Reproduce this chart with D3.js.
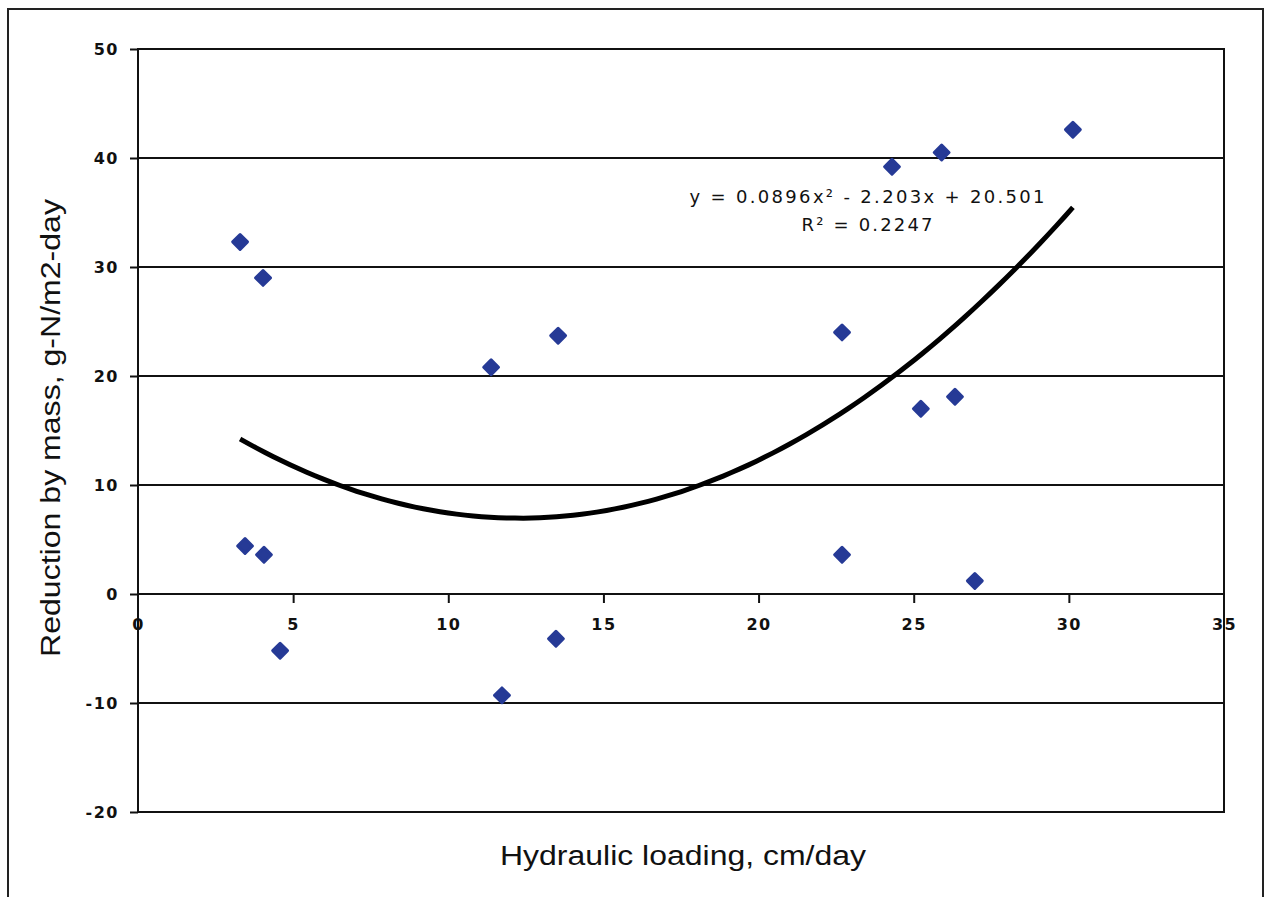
<!DOCTYPE html>
<html>
<head>
<meta charset="utf-8">
<script src="https://cdn.jsdelivr.net/npm/d3@7"></script>
<style>
  html, body { margin: 0; padding: 0; background: #fff; }
  svg { display: block; }
</style>
</head>
<body>
<svg id="chart" width="1264" height="897"></svg>
<script>
// ---- Data ----
const xValues = [3.29, 4.03, 3.45, 4.06, 4.58, 11.38, 11.73, 13.54, 13.47, 22.69, 22.69, 24.3, 25.9, 25.23, 26.33, 26.97, 30.13];
const yValues = [32.3, 29.0, 4.4, 3.6, -5.2, 20.8, -9.3, 23.7, -4.1, 24.0, 3.6, 39.2, 40.5, 17.0, 18.1, 1.2, 42.6];
const xTicks = [0, 5, 10, 15, 20, 25, 30, 35];
const yTicks = [-20, -10, 0, 10, 20, 30, 40, 50];
const trendCoeffs = [0.0896, -2.203, 20.501]; // a, b, c of y = a x^2 + b x + c
const equationLines = ["y = 0.0896x² - 2.203x + 20.501", "R² = 0.2247"];
const xTitle = "Hydraulic loading, cm/day";
const yTitle = "Reduction by mass, g-N/m2-day";

const svg = d3.select("#chart");
const L = 138, R = 1224, T = 49, B = 812;

const x = d3.scaleLinear().domain([0, 35]).range([L, R]);
const y = d3.scaleLinear().domain([-20, 50]).range([B, T]);
const fmt = d => String(d); // plain hyphen-minus like the original

// outer frame
svg.append("rect").attr("x", 8).attr("y", 9).attr("width", 1255).attr("height", 900)
  .attr("fill", "#fff").attr("stroke", "#222").attr("stroke-width", 2);

// gridlines
svg.append("g").selectAll("line").data(yTicks).join("line")
  .attr("x1", L).attr("x2", R)
  .attr("y1", d => y(d)).attr("y2", d => y(d))
  .attr("stroke", "#111").attr("stroke-width", 2);

// plot border
svg.append("rect").attr("x", L).attr("y", T).attr("width", R - L).attr("height", B - T)
  .attr("fill", "none").attr("stroke", "#111").attr("stroke-width", 2);

// y axis ticks and labels
const yAxis = d3.axisLeft(y).tickValues(yTicks).tickSize(8).tickPadding(11).tickFormat(fmt);
const gy = svg.append("g").attr("transform", `translate(${L},0)`).call(yAxis)
  .attr("font-size", null).attr("font-family", null);
gy.select(".domain").remove();
gy.selectAll(".tick line").attr("stroke", "#111").attr("stroke-width", 2);
gy.selectAll(".tick text").style("font-family", "DejaVu Sans").style("font-size", "16px")
  .style("font-weight", "bold").style("letter-spacing", "1.5px").attr("fill", "#111");

// x axis at y = 0
const xAxis = d3.axisBottom(x).tickValues(xTicks).tickSize(9).tickPadding(16).tickFormat(fmt);
const gx = svg.append("g").attr("transform", `translate(0,${y(0)})`).call(xAxis)
  .attr("font-size", null).attr("font-family", null);
gx.select(".domain").remove();
gx.selectAll(".tick line").attr("stroke", "#111").attr("stroke-width", 2)
  .attr("display", d => (d === 0 || d === 35) ? "none" : null);
gx.selectAll(".tick text").style("font-family", "DejaVu Sans").style("font-size", "16px")
  .style("font-weight", "bold").style("letter-spacing", "1.5px").attr("fill", "#111");

// trendline from the chart's own fitted equation
const xMin = d3.min(xValues), xMax = d3.max(xValues);
const trendPts = d3.range(0, 101).map(i => {
  const xv = xMin + (xMax - xMin) * i / 100;
  return [xv, trendCoeffs[0] * xv * xv + trendCoeffs[1] * xv + trendCoeffs[2]];
});
svg.append("path").datum(trendPts)
  .attr("d", d3.line().x(d => x(d[0])).y(d => y(d[1])).curve(d3.curveMonotoneX))
  .attr("fill", "none").attr("stroke", "#000").attr("stroke-width", 5);

// points (diamonds)
const pts = xValues.map((xv, i) => [xv, yValues[i]]);
svg.append("g").selectAll("path").data(pts).join("path")
  .attr("transform", d => `translate(${x(d[0])},${y(d[1])})`)
  .attr("d", d3.symbol().type(d3.symbolDiamond2).size(140))
  .attr("fill", "#263a96").attr("stroke", "#263a96").attr("stroke-width", 3).attr("stroke-linejoin", "round");

// equation text
const eqLen = [355, 131];
svg.append("g").selectAll("text").data(equationLines).join("text")
  .attr("x", 867).attr("y", (d, i) => 203 + i * 28)
  .attr("text-anchor", "middle")
  .attr("font-family", "DejaVu Sans").attr("font-size", 18)
  .attr("textLength", (d, i) => eqLen[i]).attr("lengthAdjust", "spacing")
  .attr("fill", "#111")
  .text(d => d);

// axis titles
svg.append("text")
  .attr("x", 683).attr("y", 865).attr("text-anchor", "middle")
  .attr("font-family", "Liberation Sans").attr("font-size", 27)
  .attr("textLength", 366).attr("lengthAdjust", "spacingAndGlyphs")
  .attr("fill", "#111").text(xTitle);

svg.append("text")
  .attr("transform", "translate(60,428) rotate(-90)")
  .attr("text-anchor", "middle")
  .attr("font-family", "Liberation Sans").attr("font-size", 27)
  .attr("textLength", 458).attr("lengthAdjust", "spacingAndGlyphs")
  .attr("fill", "#111").text(yTitle);
</script>
</body>
</html>
